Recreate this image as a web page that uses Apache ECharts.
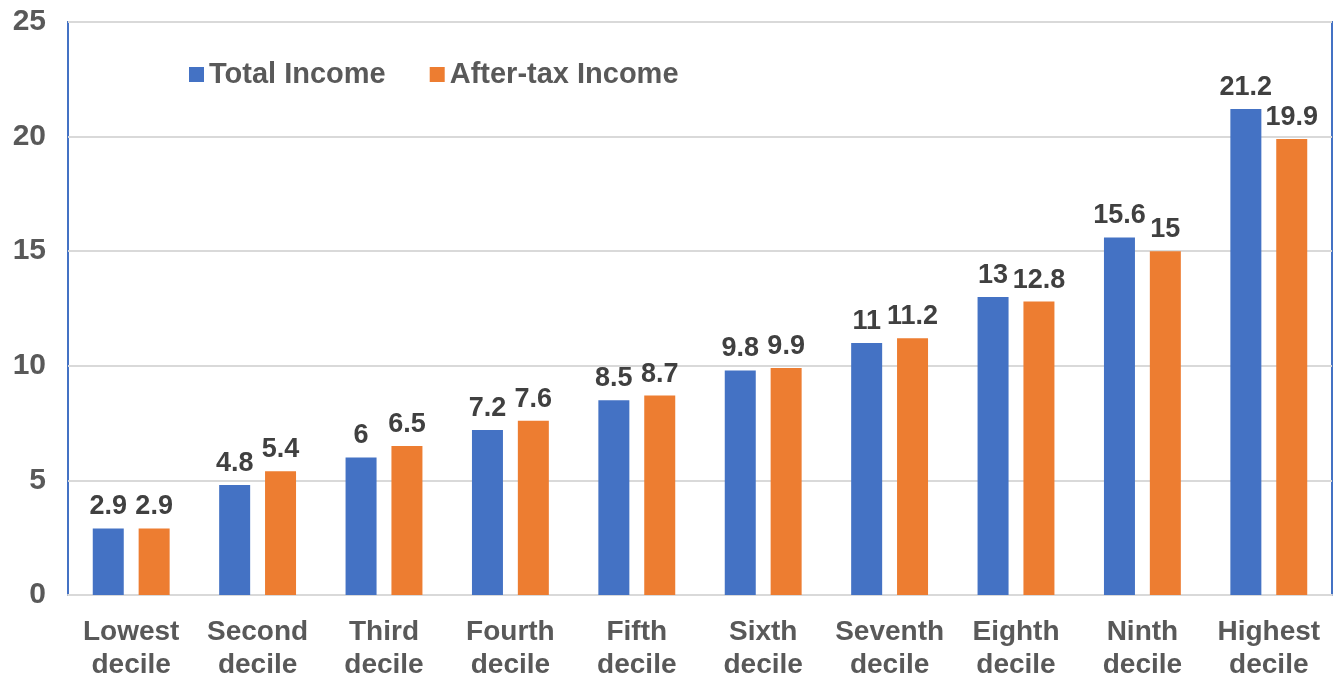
<!DOCTYPE html>
<html>
<head>
<meta charset="utf-8">
<script src="https://cdn.jsdelivr.net/npm/echarts@6/dist/echarts.min.js"></script>
<style>
  html, body { margin: 0; padding: 0; background: #fff; }
  #chart { width: 1338px; height: 677px; }
</style>
</head>
<body>
<div id="chart"></div>
<script>
// Share of income by decile
const categories = ['Lowest\ndecile', 'Second\ndecile', 'Third\ndecile', 'Fourth\ndecile', 'Fifth\ndecile',
  'Sixth\ndecile', 'Seventh\ndecile', 'Eighth\ndecile', 'Ninth\ndecile', 'Highest\ndecile'];
const totalIncome = [2.9, 4.8, 6, 7.2, 8.5, 9.8, 11, 13, 15.6, 21.2];
const afterTaxIncome = [2.9, 5.4, 6.5, 7.6, 8.7, 9.9, 11.2, 12.8, 15, 19.9];
const seriesNames = ['Total Income', 'After-tax Income'];

const FONT = '"Liberation Sans", Arial, sans-serif';
const chart = echarts.init(document.getElementById('chart'));

const labelStyle = {
  show: true,
  position: 'top',
  distance: 8,
  fontFamily: FONT,
  fontWeight: 'bold',
  fontSize: 27,
  color: '#404040'
};

chart.setOption({
  animation: false,
  textStyle: { fontFamily: FONT },
  legend: {
    left: 184,
    top: 55,
    itemWidth: 15,
    itemHeight: 15,
    itemGap: 44,
    icon: 'rect',
    textStyle: { fontFamily: FONT, fontWeight: 'bold', fontSize: 29, color: '#595959' },
    data: seriesNames
  },
  grid: {
    left: 68,
    right: 6,
    top: 22,
    bottom: 82,
    outerBoundsMode: 'none',
    containLabel: false,
    show: true,
    borderColor: '#4472C4',
    borderWidth: 2,
    backgroundColor: 'transparent'
  },
  xAxis: {
    type: 'category',
    data: categories,
    axisTick: { show: false },
    axisLine: { show: true, lineStyle: { color: '#D9D9D9', width: 2 } },
    axisLabel: {
      interval: 0,
      margin: 21,
      fontFamily: FONT,
      fontWeight: 'bold',
      fontSize: 28,
      lineHeight: 33,
      color: '#595959'
    }
  },
  yAxis: {
    type: 'value',
    min: 0,
    max: 25,
    interval: 5,
    axisLine: { show: false },
    axisTick: { show: false },
    splitLine: { lineStyle: { color: '#D9D9D9', width: 2 } },
    axisLabel: {
      margin: 22,
      fontFamily: FONT,
      fontWeight: 'bold',
      fontSize: 30,
      color: '#595959'
    }
  },
  series: [
    {
      name: seriesNames[0],
      type: 'bar',
      data: totalIncome,
      barWidth: 31,
      barGap: '48%',
      itemStyle: { color: '#4472C4' },
      label: labelStyle
    },
    {
      name: seriesNames[1],
      type: 'bar',
      data: afterTaxIncome,
      barWidth: 31,
      itemStyle: { color: '#ED7D31' },
      label: labelStyle
    }
  ]
});
</script>
</body>
</html>
